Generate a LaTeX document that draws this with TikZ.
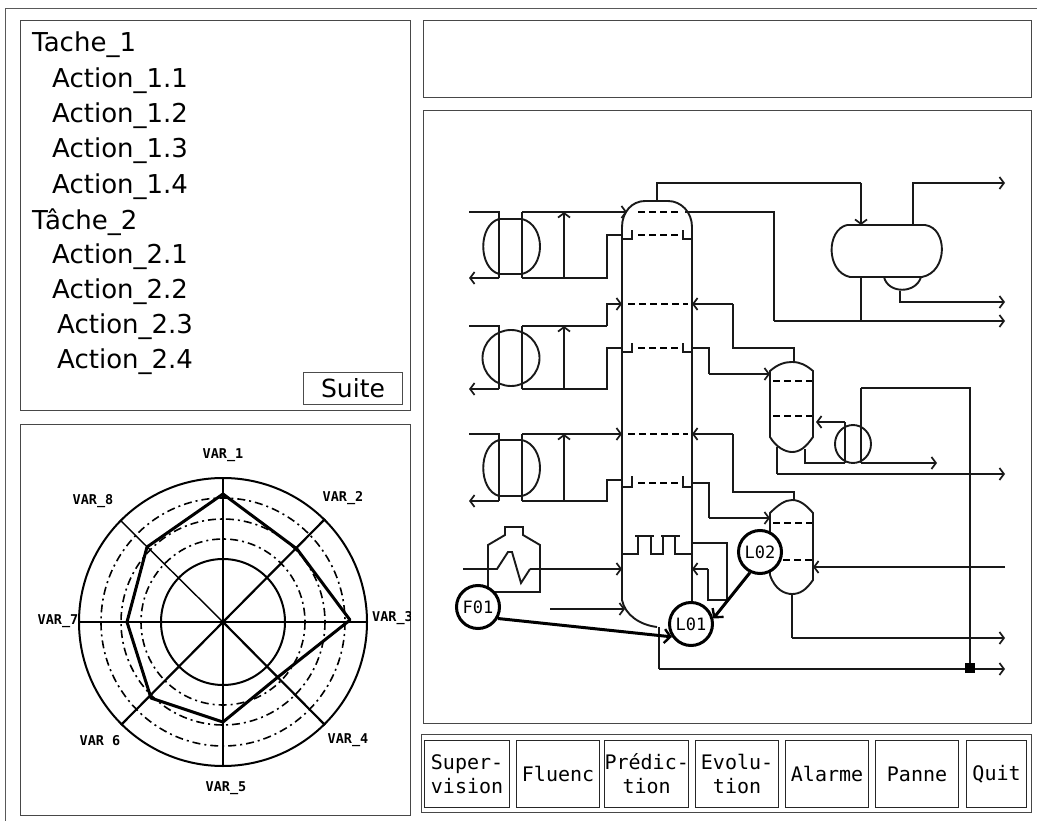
\documentclass[tikz,border=0pt]{standalone}
\usepackage{fontspec}
\setmainfont{DejaVu Sans}
\newfontfamily\bitfont{DejaVu Sans Mono}
\usetikzlibrary{arrows.meta}
\tikzset{
  panel/.style={draw=black!72,line width=1pt,fill=white},
  pipe/.style={line width=1.9pt,black!90},
  flow/.style={pipe,-{Straight Barb[length=4.5pt,width=12pt,line width=1.7pt]}},
  tray/.style={line width=1.8pt,dash pattern=on 7pt off 4pt},
  tasktext/.style={anchor=west,font=\fontsize{26}{26}\selectfont,inner sep=0pt},
  varlabel/.style={font=\bitfont\bfseries\fontsize{13.5}{13.5}\selectfont,inner sep=0pt},
  btn/.style={draw=black!85,line width=1.1pt,fill=white,anchor=north west,minimum height=67pt,inner sep=0pt,align=center,font=\bitfont\fontsize{20}{24}\selectfont},
  instr/.style={circle,draw=black,line width=3pt,fill=white,minimum size=43pt,inner sep=0pt,font=\bitfont\fontsize{17}{17}\selectfont},
  signal/.style={line width=3pt,black,-{Straight Barb[length=6pt,width=14pt,line width=2.4pt]}},
  spoke/.style={line width=2.2pt},
  ring/.style={line width=2pt},
  dashring/.style={line width=1.6pt,dash pattern=on 8pt off 4pt on 2pt off 4pt}
}
\begin{document}
\begin{tikzpicture}[x=1pt,y=-1pt]
\useasboundingbox (0,0) rectangle (1037,821);
\fill[white] (0,0) rectangle (1037,821);
% outer frame
\draw[black!65,line width=1pt] (5,821) -- (5,9) -- (1037,9);
% panels
\draw[panel] (20,21) rectangle (410,410);
\draw[panel] (20,424) rectangle (410,815);
\draw[panel] (423,21) rectangle (1031,98);
\draw[panel] (423,111) rectangle (1031,723);
\draw[panel] (421,734) rectangle (1031,812);
% task list
\node[tasktext] (t1) at (32,45) {Tache\_1};
\node[tasktext] (a11) at (52,81) {Action\_1.1};
\node[tasktext] (a12) at (52,116) {Action\_1.2};
\node[tasktext] (a13) at (52,151) {Action\_1.3};
\node[tasktext] (a14) at (52,187) {Action\_1.4};
\node[tasktext] (t2) at (32,222) {Tâche\_2};
\node[tasktext] (a21) at (52,257) {Action\_2.1};
\node[tasktext] (a22) at (52,292) {Action\_2.2};
\node[tasktext] (a23) at (57,327) {Action\_2.3};
\node[tasktext] (a24) at (57,362) {Action\_2.4};
\node[draw=black!70,line width=1pt,minimum width=99pt,minimum height=32pt,inner sep=0pt,font=\fontsize{25}{25}\selectfont] (suite) at (353,388) {Suite};
% radar
\begin{scope}
\clip (20,424) rectangle (410,815);
\draw[ring] (223,622) ellipse [x radius=144,y radius=144];
\draw[ring] (223,622) ellipse [x radius=62,y radius=63];
\draw[dashring] (223,622) ellipse [x radius=82,y radius=83];
\draw[dashring] (223,622) ellipse [x radius=102,y radius=103];
\draw[dashring] (223,622) ellipse [x radius=122,y radius=124];
\draw[spoke] (223,478) -- (223,766);
\draw[spoke] (79,622) -- (367,622);
\draw[spoke] (325,519) -- (121,725);
\draw[spoke] (325,725) -- (223,622);
\draw[line width=1.4pt] (120,520) -- (223,622);
\draw[line width=3pt,line join=round] (223,494) -- (297,549) -- (350,620) -- (278,677) -- (223,722) -- (151,698) -- (127,622) -- (147,547) -- cycle;
\node[varlabel] (v1) at (223,455) {VAR\_1};
\node[varlabel] (v2) at (343,498) {VAR\_2};
\node[varlabel,anchor=west] (v3) at (372,618) {VAR\_3};
\node[varlabel] (v4) at (348,740) {VAR\_4};
\node[varlabel] (v5) at (226,788) {VAR\_5};
\node[varlabel] (v7) at (58,621) {VAR\_7};
\node[varlabel] (v8) at (93,501) {VAR\_8};
\end{scope}
\begin{scope}
\clip (70,730) rectangle (130,745.5);
\node[varlabel] (v6) at (100,742) {VAR\_6};
\end{scope}
% exchanger 1
\draw[pipe] (469,212) -- (499,212) -- (499,278);
\draw[flow] (499,278) -- (469,278);
\draw[pipe] (522,278) -- (522,212);
\draw[pipe] (499,219) -- (522,219) (499,274) -- (522,274);
\draw[pipe] (499,219) .. controls (478,225) and (478,268) .. (499,274);
\draw[pipe] (522,219) .. controls (546,225) and (546,268) .. (522,274);
\draw[flow] (522,212) -- (627,212);
\draw[pipe] (522,278) -- (607,278) -- (607,235) -- (622,235);
\draw[flow] (564,278) -- (564,212);
% exchanger 2
\draw[pipe] (469,326) -- (499,326) -- (499,389);
\draw[flow] (499,389) -- (469,389);
\draw[pipe] (522,389) -- (522,326);
\draw[pipe] (511,358) ellipse [x radius=28.5,y radius=28];
\draw[pipe] (522,326) -- (607,326);
\draw[flow] (607,326) -- (607,304) -- (622,304);
\draw[pipe] (522,389) -- (607,389) -- (607,348) -- (622,348);
\draw[flow] (564,389) -- (564,326);
% exchanger 3
\draw[pipe] (469,434) -- (499,434) -- (499,501);
\draw[flow] (499,501) -- (469,501);
\draw[pipe] (522,501) -- (522,434);
\draw[pipe] (499,440) -- (522,440) (499,496) -- (522,496);
\draw[pipe] (499,440) .. controls (478,446) and (478,490) .. (499,496);
\draw[pipe] (522,440) .. controls (546,446) and (546,490) .. (522,496);
\draw[flow] (522,434) -- (622,434);
\draw[pipe] (522,501) -- (607,501) -- (607,480) -- (622,480);
\draw[flow] (564,501) -- (564,434);
% furnace
\draw[pipe] (488,592) -- (488,545) -- (505,535) -- (505,527) -- (523,527) -- (523,535) -- (540,545) -- (540,592) -- cycle;
\draw[pipe] (463,569) -- (497,569) -- (508,552) -- (512,552) -- (521,583) -- (530,569);
\draw[flow] (530,569) -- (622,569);
\draw[flow] (550,609) -- (625,609);
% main column
\draw[pipe] (657,627) .. controls (640,625) and (625,615) .. (622,600) -- (622,227)
  .. controls (622,212) and (632,201) .. (645,201) -- (668,201)
  .. controls (681,201) and (692,212) .. (692,227) -- (692,602);
\draw[tray] (638,212) -- (680,212);
\draw[tray] (638,235) -- (680,235);
\draw[tray] (628,304) -- (688,304);
\draw[tray] (638,348) -- (680,348);
\draw[tray] (628,434) -- (688,434);
\draw[tray] (638,483) -- (680,483);
\draw[pipe] (622,239) -- (632,239) -- (632,230);
\draw[pipe] (692,239) -- (683,239) -- (683,230);
\draw[pipe] (622,352) -- (632,352) -- (632,343);
\draw[pipe] (692,352) -- (683,352) -- (683,343);
\draw[pipe] (622,487) -- (632,487) -- (632,476);
\draw[pipe] (692,487) -- (683,487) -- (683,476);
% bubble caps
\draw[pipe] (623,554) -- (638,554) -- (638,536);
\draw[pipe] (651,536) -- (651,554) -- (663,554) -- (663,536);
\draw[pipe] (675,536) -- (675,554) -- (692,554);
\draw[pipe] (635,536) -- (654,536) (661,536) -- (680,536);
% overhead to reflux tank
\draw[pipe] (657,201) -- (657,183) -- (861,183);
\draw[flow] (861,183) -- (861,225);
\draw[flow] (913,225) -- (913,183) -- (1005,183);
\draw[pipe] (847,225) -- (925,225) .. controls (948,228) and (948,272) .. (922,277) -- (850,277) .. controls (826,272) and (826,230) .. (847,225);
\draw[pipe] (884,277) .. controls (888,294) and (916,294) .. (921,277);
\draw[flow] (900,291) -- (900,302) -- (1005,302);
\draw[pipe] (861,277) -- (861,321);
\draw[pipe] (685,212) -- (774,212) -- (774,321);
\draw[flow] (774,321) -- (1005,321);
% side connections
\draw[flow] (733,304) -- (692,304);
\draw[pipe] (733,304) -- (733,348) -- (794,348) -- (794,362);
\draw[pipe] (692,348) -- (709,348) -- (709,374);
\draw[flow] (709,374) -- (770,374);
\draw[flow] (733,434) -- (692,434);
\draw[pipe] (733,434) -- (733,492) -- (794,492) -- (794,500);
\draw[pipe] (692,483) -- (709,483) -- (709,518);
\draw[flow] (709,518) -- (770,518);
\draw[pipe] (692,543) -- (727,543) -- (727,600) -- (708,600) -- (708,569);
\draw[flow] (708,569) -- (692,569);
% drum 1
\draw[pipe] (770,371) .. controls (778,364) and (785,362) .. (792,362) .. controls (800,362) and (806,365) .. (813,371) -- (813,437)
  .. controls (806,447) and (800,452) .. (792,452) .. controls (785,452) and (776,447) .. (770,437) -- cycle;
\draw[tray] (773,381) -- (812,381);
\draw[tray] (773,416) -- (812,416);
\draw[pipe] (777,447) -- (777,474);
\draw[flow] (777,474) -- (1005,474);
% small exchanger
\draw[pipe] (853,444) ellipse [x radius=18,y radius=19];
\draw[pipe] (845,422) -- (845,463);
\draw[pipe] (861,388) -- (861,463);
\draw[flow] (845,422) -- (816,422);
\draw[flow] (861,463) -- (937,463);
\draw[pipe] (845,463) -- (805,463) -- (805,449);
\draw[pipe] (861,388) -- (970,388) -- (970,668);
% drum 2
\draw[pipe] (770,513) .. controls (778,505) and (785,500) .. (792,500) .. controls (800,500) and (806,505) .. (813,513) -- (813,580)
  .. controls (806,590) and (800,594) .. (792,594) .. controls (785,594) and (775,590) .. (770,575) -- cycle;
\draw[tray] (773,523) -- (812,523);
\draw[tray] (783,560) -- (812,560);
\draw[flow] (1005,567) -- (813,567);
\draw[pipe] (792,594) -- (792,638);
\draw[flow] (792,638) -- (1005,638);
% bottoms
\draw[pipe] (659,627) -- (659,669);
\draw[flow] (659,669) -- (1005,669);
\fill (965,663) rectangle (975,673);
% instruments
\node[instr] (F01) at (478,607) {F01};
\node[instr] (L01) at (691,624) {L01};
\node[instr] (L02) at (760,552) {L02};
\draw[signal] (F01.-30) -- (L01.214);
\draw[signal] (L02.244) -- (L01.14);
% buttons
\node[btn,minimum width=85pt] (b1) at (424,740) {Super-\\vision};
\node[btn,minimum width=83pt] (b2) at (516,740) {Fluenc};
\node[btn,minimum width=83pt] (b3) at (604,740) {Prédic-\\tion};
\node[btn,minimum width=83pt] (b4) at (695,740) {Evolu-\\tion};
\node[btn,minimum width=83pt] (b5) at (785,740) {Alarme};
\node[btn,minimum width=83pt] (b6) at (875,740) {Panne};
\node[btn,minimum width=60pt] (b7) at (966,740) {Quit};
\end{tikzpicture}
\end{document}
